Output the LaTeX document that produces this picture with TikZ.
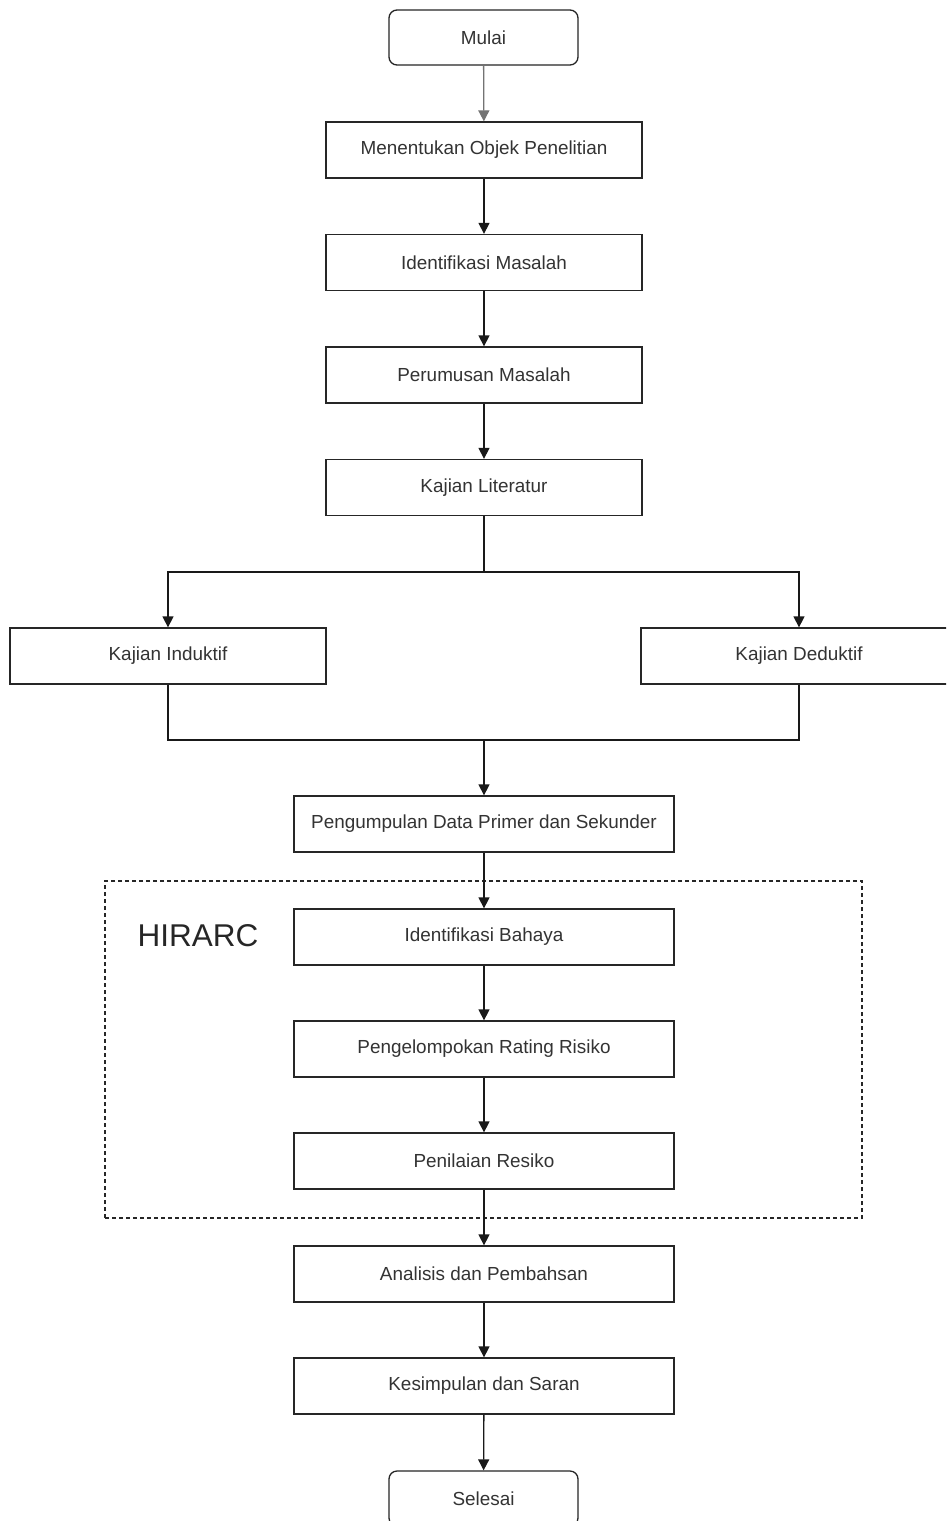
\documentclass[tikz,border=0pt]{standalone}
\usepackage{fontspec}
\setmainfont{Liberation Sans}
\usetikzlibrary{arrows.meta}
\begin{document}
\begin{tikzpicture}[x=1pt,y=-1pt,
  box/.style={draw=black!85, line width=1.3pt, minimum width=316pt, minimum height=56pt, inner sep=0pt, font=\fontsize{18.9}{22}\selectfont, text=black!80},
  wbox/.style={box, minimum width=380pt},
  term/.style={box, rounded corners=8pt, minimum width=189pt, minimum height=55pt},
  arr/.style={-{Triangle[length=11pt,width=11pt]}, line width=1.3pt, draw=black!90},
  conn/.style={line width=1.3pt, draw=black!90},
  frame/.style={draw=black!85, line width=1.1pt, dash pattern=on 4pt off 3pt, minimum width=757pt, minimum height=337pt, inner sep=0pt}]
\clip (0,0) rectangle (946,1521);
\fill[white] (0,0) rectangle (946,1521);
\node[frame] (hirarcbox) at (483.5,1049.5) {};
\node[font=\fontsize{31.5}{36}\selectfont, text=black!85] (hl) at (198,936) {HIRARC};
\node[term] (mulai) at (483.5,37.5) {Mulai};
\node[box] (objek) at (484,150) {Menentukan Objek Penelitian};
\node[box] (idm) at (484,262.5) {Identifikasi Masalah};
\node[box] (perm) at (484,375) {Perumusan Masalah};
\node[box] (lit) at (484,487.5) {Kajian Literatur};
\node[box] (ind) at (168,656) {Kajian Induktif};
\node[box] (ded) at (799,656) {Kajian Deduktif};
\node[wbox] (pdata) at (484,824) {Pengumpulan Data Primer dan Sekunder};
\node[wbox] (bahaya) at (484,937) {Identifikasi Bahaya};
\node[wbox] (rating) at (484,1049) {Pengelompokan Rating Risiko};
\node[wbox] (nilai) at (484,1161) {Penilaian Resiko};
\node[wbox] (anal) at (484,1274) {Analisis dan Pembahsan};
\node[wbox] (kes) at (484,1386) {Kesimpulan dan Saran};
\node[term] (sel) at (483.5,1498.5) {Selesai};
\draw[arr, draw=black!55] (mulai) -- (objek);
\draw[arr] (objek) -- (idm);
\draw[arr] (idm) -- (perm);
\draw[arr] (perm) -- (lit);
\coordinate (split) at (484,572);
\draw[conn] (lit.south) -- (split);
\draw[arr] (split) -| (ind.north);
\draw[arr] (split) -| (ded.north);
\coordinate (join) at (484,740);
\draw[conn] (ind.south) |- (join) -| (ded.south);
\draw[arr] (join) -- (pdata);
\draw[arr] (pdata) -- (bahaya);
\draw[arr] (bahaya) -- (rating);
\draw[arr] (rating) -- (nilai);
\draw[arr] (nilai) -- (anal);
\draw[arr] (anal) -- (kes);
\draw[arr] (kes) -- (sel);
\end{tikzpicture}
\end{document}
